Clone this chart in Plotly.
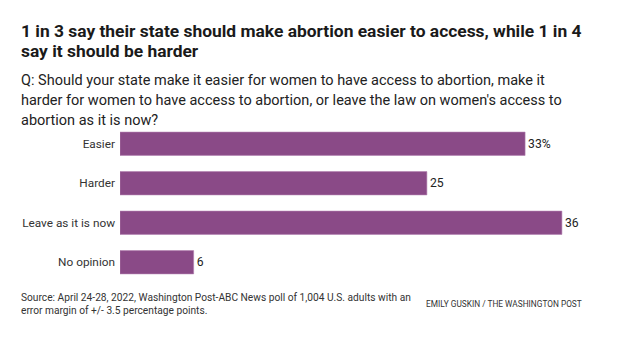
import plotly.graph_objects as go

# Poll responses (percent)
categories = ["Easier", "Harder", "Leave as it is now", "No opinion"]
values = [33, 25, 36, 6]
value_labels = ["33%", "25", "36", "6"]

title_lines = [
    "1 in 3 say their state should make abortion easier to access, while 1 in 4",
    "say it should be harder",
]
subtitle_lines = [
    "Q: Should your state make it easier for women to have access to abortion, make it",
    "harder for women to have access to abortion, or leave the law on women's access to",
    "abortion as it is now?",
]
source_lines = [
    "Source: April 24-28, 2022, Washington Post-ABC News poll of 1,004 U.S. adults with an",
    "error margin of +/- 3.5 percentage points.",
]
credit_text = "EMILY GUSKIN / THE WASHINGTON POST"

W, H = 624, 340
M_L, M_R, M_T, M_B = 120, 13, 124, 58
PLOT_H = H - M_T - M_B
PLOT_W = W - M_L - M_R

FONT = "Roboto, Arial, sans-serif"
BAR_COLOR = "#8a4a87"


def px_x(x):
    return (x - M_L) / PLOT_W


def px_y(y):
    return (H - M_B - y) / PLOT_H


fig = go.Figure(
    go.Bar(
        x=values,
        y=categories,
        orientation="h",
        marker=dict(color=BAR_COLOR, line=dict(color="#b27fae", width=0.6)),
        width=0.59,
        text=value_labels,
        textposition="outside",
        textfont=dict(family=FONT, size=12.2, color="#222222"),
        cliponaxis=False,
        hoverinfo="skip",
    )
)

fig.update_layout(
    width=W,
    height=H,
    margin=dict(l=M_L, r=M_R, t=M_T, b=M_B, autoexpand=False),
    paper_bgcolor="white",
    plot_bgcolor="white",
    showlegend=False,
    font=dict(family=FONT, color="#222222"),
    xaxis=dict(range=[0, 40], visible=False, fixedrange=True, automargin=False),
    yaxis=dict(
        categoryorder="array",
        categoryarray=categories[::-1],
        range=[-0.5, 3.5],
        showgrid=False,
        showline=False,
        zeroline=False,
        ticks="",
        ticklabelstandoff=4,
        automargin=False,
        tickfont=dict(family=FONT, size=11.8, color="#333333"),
        fixedrange=True,
    ),
)


def line_note(text, x, y_center, size, color, bold=False):
    return dict(
        text=("<b>" + text + "</b>") if bold else text,
        x=px_x(x), y=px_y(y_center),
        xref="paper", yref="paper",
        xanchor="left", yanchor="middle",
        align="left", showarrow=False,
        font=dict(family=FONT, size=size, color=color),
    )


annotations = []
for i, t in enumerate(title_lines):
    annotations.append(line_note(t, 19, 30.5 + 20.5 * i, 17.4, "#1a1a1a", bold=True))
for i, t in enumerate(subtitle_lines):
    annotations.append(line_note(t, 19, 80 + 20.5 * i, 14.5, "#222222"))
for i, t in enumerate(source_lines):
    annotations.append(line_note(t, 19, 297.5 + 13 * i, 10.2, "#333333"))
annotations.append(line_note(credit_text, 424, 304, 8.3, "#333333"))
fig.update_layout(annotations=annotations)

fig.write_html("out.html", config={"displayModeBar": False})
